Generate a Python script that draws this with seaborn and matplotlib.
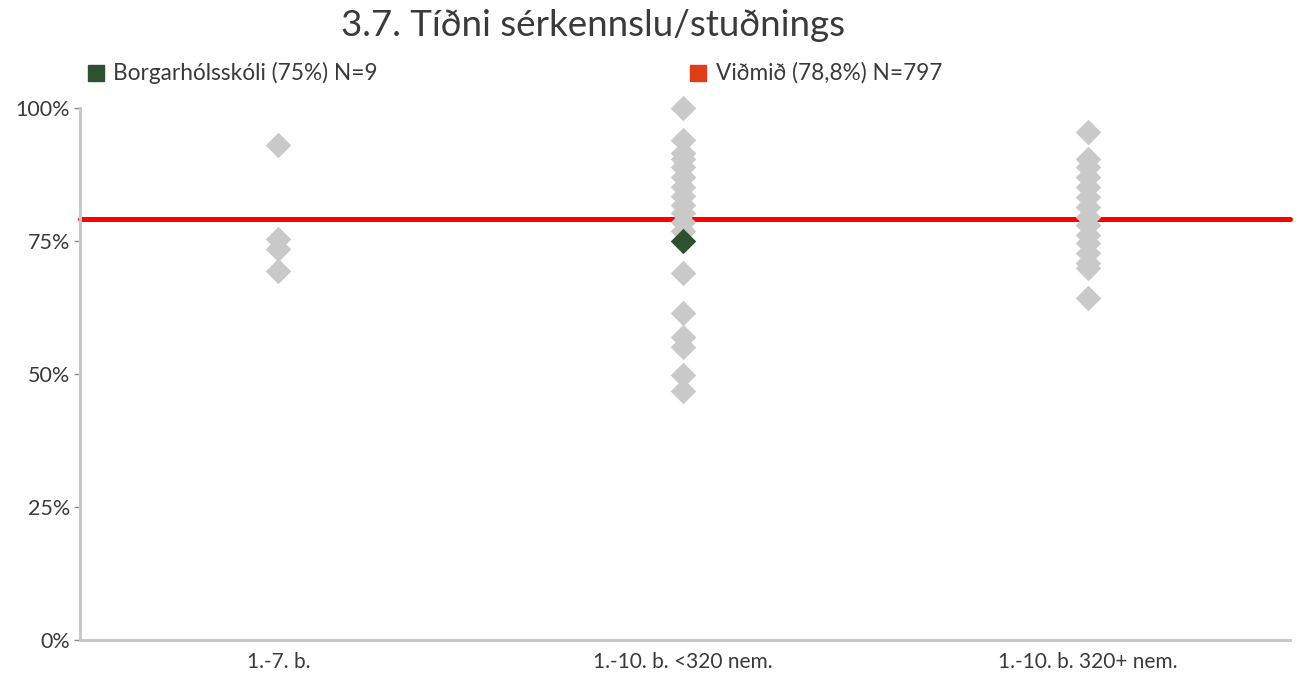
import matplotlib
matplotlib.use("Agg")
import matplotlib.pyplot as plt
from matplotlib.patches import Rectangle
from matplotlib.ticker import PercentFormatter
import pandas as pd
import seaborn as sns

# Data
categories = ["1.-7. b.", "1.-10. b. <320 nem.", "1.-10. b. 320+ nem."]
vals_small = [93.0, 75.3, 73.5, 69.3]
vals_mid = [100.0, 94.0, 91.5, 90.5, 88.9, 87.0, 85.2, 83.5, 81.8, 80.2,
            78.6, 76.8, 69.0, 61.5, 57.0, 55.0, 49.8, 46.8]
vals_large = [95.5, 90.5, 88.9, 87.0, 85.2, 83.3, 81.4, 79.6, 78.0, 76.2,
              74.6, 72.7, 70.9, 70.0, 64.3]
school_cat = "1.-10. b. <320 nem."
school_val = 75.0
benchmark = 79.2

title = "3.7. Tíðni sérkennslu/stuðnings"
label_school = "Borgarhólsskóli (75%) N=9"
label_bench = "Viðmið (78,8%) N=797"

grey = "#C9C9C9"
green = "#2E5230"
red = "#FF0000"
legend_red = "#E03C17"
text_col = "#3A3A3A"

sns.set_theme(style="white")
plt.rcParams["font.family"] = ["Lato", "DejaVu Sans"]

df = pd.DataFrame({
    "cat": [categories[0]] * len(vals_small) + [categories[1]] * len(vals_mid)
           + [categories[2]] * len(vals_large),
    "val": vals_small + vals_mid + vals_large,
})
df_school = pd.DataFrame({"cat": [school_cat], "val": [school_val]})

fig = plt.figure(figsize=(13.04, 6.73), dpi=100)
ax = fig.add_axes([80 / 1304, 1 - 640 / 673, 1210 / 1304, 532 / 673])

sns.stripplot(data=df, x="cat", y="val", order=categories, jitter=False,
              marker="D", size=13, color=grey, linewidth=0, ax=ax)
sns.stripplot(data=df_school, x="cat", y="val", order=categories, jitter=False,
              marker="D", size=13, color=green, linewidth=0, ax=ax)
for c in ax.collections:
    c.set_clip_on(False)

ax.axhline(benchmark, color=red, lw=3.6, zorder=1.5, clip_on=False)
ax.set_xlim(-0.49, 2.5)
ax.set_ylim(0, 100)
ax.set_yticks([0, 25, 50, 75, 100])
ax.yaxis.set_major_formatter(PercentFormatter(100, decimals=0))
ax.set_xlabel("")
ax.set_ylabel("")

sns.despine(ax=ax)
for s in ["left", "bottom"]:
    ax.spines[s].set_color("#C8C8C8")
    ax.spines[s].set_linewidth(2.2)
ax.tick_params(axis="y", which="major", left=True, length=4, width=1,
               color="#888888", labelsize=15.5, labelcolor=text_col, pad=3)
ax.tick_params(axis="x", bottom=False, labelsize=15, labelcolor=text_col, pad=3)

fig.text(593 / 1304, 1 - 25 / 673, title, ha="center", va="center",
         fontsize=26.5, color=text_col)

fig.patches.append(Rectangle((88 / 1304, 1 - 81 / 673), 16 / 1304, 16 / 673,
                             transform=fig.transFigure, color=green))
fig.text(113 / 1304, 1 - 73 / 673, label_school, ha="left", va="center",
         fontsize=16.3, color=text_col)
fig.patches.append(Rectangle((690 / 1304, 1 - 81 / 673), 16 / 1304, 16 / 673,
                             transform=fig.transFigure, color=legend_red))
fig.text(716 / 1304, 1 - 73 / 673, label_bench, ha="left", va="center",
         fontsize=16.3, color=text_col)

fig.savefig("out.png", dpi=100)
